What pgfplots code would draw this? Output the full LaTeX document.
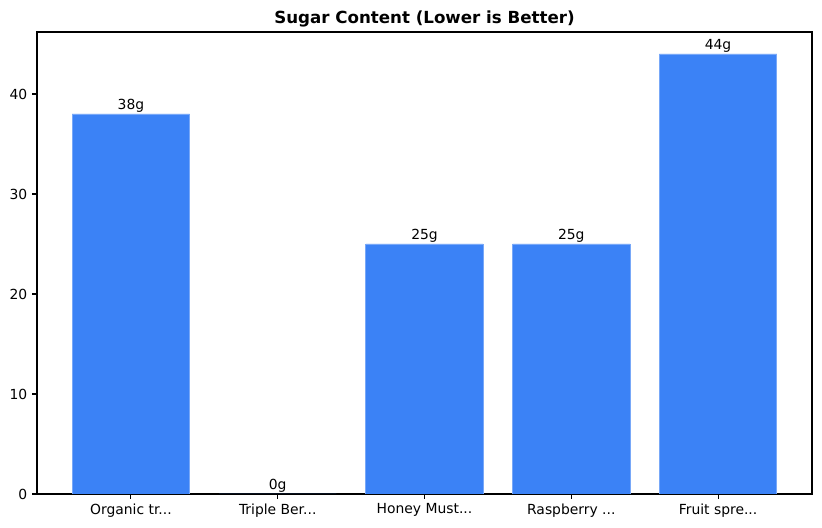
\documentclass[border=0pt]{standalone}
\usepackage{fontspec}
\setmainfont{DejaVu Sans}
\usepackage{pgfplots}
\pgfplotsset{compat=1.18}
\definecolor{barblue}{HTML}{3B82F6}
\definecolor{baredge}{HTML}{78A8F8}
\newcommand{\tdots}{...}
\begin{document}
\begin{tikzpicture}
\begin{axis}[
  scale only axis,
  width=558pt, height=332.6pt,
  xmin=-0.64, xmax=4.64,
  ymin=0, ymax=46.2,
  xtick={0,1,2,3,4},
  xticklabels={Organic tr\tdots,Triple Ber\tdots,Honey Must\tdots,Raspberry \tdots,Fruit spre\tdots},
  ytick={0,10,20,30,40},
  xtick pos=bottom, ytick pos=left,
  tick align=outside,
  major tick length=3.5pt,
  tick style={black, line width=0.8pt},
  axis line style={line width=0.8pt},
  x tick label style={font=\fontsize{10}{12}\selectfont},
  y tick label style={font=\fontsize{10}{12}\selectfont},
  /pgf/number format/assume math mode=true,
  title={\bfseries Sugar Content (Lower is Better)},
  title style={font=\fontsize{12}{14}\selectfont, yshift=-6pt},
  ybar, bar width=0.8, 
  nodes near coords={\pgfmathprintnumber{\pgfplotspointmeta}g},
  nodes near coords style={font=\fontsize{10}{12}\selectfont, inner sep=1pt, anchor=south},
]
\addplot[fill=barblue, draw=baredge, line width=0.6pt] coordinates {(0,38) (1,0) (2,25) (3,25) (4,44)};
\end{axis}
\path ([xshift=-26.64pt,yshift=-24.48pt]current axis.south west) rectangle ([xshift=7.2pt,yshift=23.04pt]current axis.north east);
\end{tikzpicture}
\end{document}
